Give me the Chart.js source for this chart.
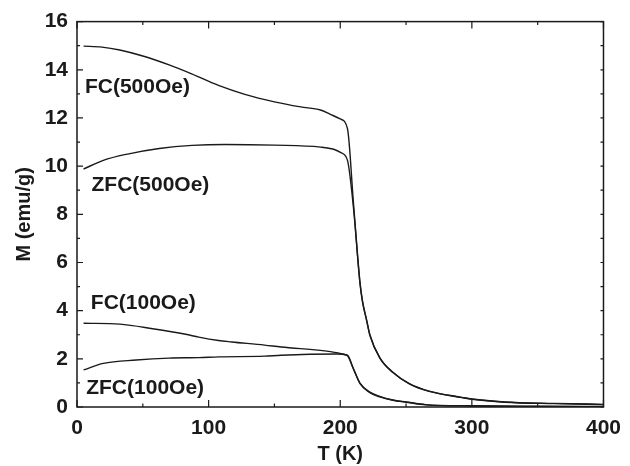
<!DOCTYPE html>
<html>
<head>
<meta charset="utf-8">
<script src="https://cdn.jsdelivr.net/npm/chart.js@4.4.1/dist/chart.umd.min.js"></script>
<style>
html,body{margin:0;padding:0;background:#fff;}
#wrap{width:630px;height:466px;position:relative;}
</style>
</head>
<body>
<div id="wrap"><canvas id="c" width="630" height="466"></canvas></div>
<script>
// ---- data ----
const fc500T  = [5, 19, 32.5, 50, 70, 87.5, 107.5, 127.5, 150, 170, 185, 192.5, 200, 205.5, 210, 215, 217, 220, 222.5, 230, 240, 252.5, 267.5, 292.5, 300, 325, 362.5, 400];
const fc500M  = [14.98, 14.94, 14.82, 14.57, 14.2, 13.82, 13.35, 12.98, 12.67, 12.46, 12.33, 12.15, 11.96, 11.55, 8.5, 5.18, 4.37, 3.63, 3.0, 2.05, 1.44, 0.97, 0.66, 0.4, 0.33, 0.21, 0.15, 0.11];
const zfc500T = [5, 20, 37.5, 62.5, 87.5, 112.5, 150, 185, 195, 200.5, 205.5, 210, 215, 217, 220, 222.5, 230, 240, 252.5, 267.5, 292.5, 300, 325, 362.5, 400];
const zfc500M = [9.88, 10.24, 10.49, 10.73, 10.86, 10.9, 10.87, 10.79, 10.7, 10.56, 10.24, 8.3, 5.12, 4.33, 3.6, 2.98, 2.04, 1.43, 0.96, 0.65, 0.39, 0.32, 0.2, 0.14, 0.1];
const fc100T  = [5, 32.5, 57.5, 82.5, 92.5, 107.5, 117.5, 142.5, 155, 192.5, 202.5, 205.5, 210, 215, 222.5, 230, 240, 250, 265, 300, 350, 400];
const fc100M  = [3.48, 3.44, 3.25, 3.02, 2.9, 2.76, 2.7, 2.57, 2.49, 2.3, 2.19, 2.12, 1.6, 0.99, 0.62, 0.44, 0.29, 0.21, 0.1, 0.05, 0.03, 0.02];
const zfc100T = [5, 20, 45, 70, 92.5, 107.5, 142.5, 155, 197.5, 205.5, 210, 215, 222.5, 230, 240, 250, 265, 300, 350, 400];
const zfc100M = [1.54, 1.81, 1.95, 2.03, 2.05, 2.08, 2.11, 2.15, 2.2, 2.15, 1.58, 0.97, 0.6, 0.42, 0.28, 0.2, 0.09, 0.04, 0.02, 0.01];
const seriesNames = ["FC(500Oe)", "ZFC(500Oe)", "FC(100Oe)", "ZFC(100Oe)"];
// label anchor (T, M) for each curve name
const labelT = [6, 11, 10.5, 7];
const labelM = [13.28, 9.2, 4.3, 0.76];
const xTicks = [0, 100, 200, 300, 400];
const yTicks = [0, 2, 4, 6, 8, 10, 12, 14, 16];

const FONT = "'Liberation Sans', Arial, Helvetica, sans-serif";
const INK = '#1a1a1a';

function pts(T, M){ return T.map((t,i)=>({x:t, y:M[i]})); }
const allT = [fc500T, zfc500T, fc100T, zfc100T];
const allM = [fc500M, zfc500M, fc100M, zfc100M];

const datasets = seriesNames.map((n,i)=>({
  label: n,
  data: pts(allT[i], allM[i]),
  borderColor: INK,
  borderWidth: 1.4,
  pointRadius: 0,
  fill: false,
  cubicInterpolationMode: 'monotone'
}));

const framePlugin = {
  id: 'frame',
  afterDatasetsDraw(chart){
    const {ctx, chartArea:a, scales:{x, y}} = chart;
    ctx.save();
    ctx.strokeStyle = INK;
    ctx.lineWidth = 1.5;
    ctx.strokeRect(a.left, a.top, a.right - a.left, a.bottom - a.top);
    ctx.lineWidth = 1.2;
    for (let i = 0; i < xTicks.length; i++) {
      const px = x.getPixelForValue(xTicks[i]);
      ctx.beginPath();
      ctx.moveTo(px, a.bottom); ctx.lineTo(px, a.bottom - 7);
      ctx.moveTo(px, a.top); ctx.lineTo(px, a.top + 7);
      ctx.stroke();
      if (i < xTicks.length - 1) {
        const pm = x.getPixelForValue((xTicks[i] + xTicks[i+1]) / 2);
        ctx.beginPath();
        ctx.moveTo(pm, a.bottom); ctx.lineTo(pm, a.bottom - 3.5);
        ctx.moveTo(pm, a.top); ctx.lineTo(pm, a.top + 3.5);
        ctx.stroke();
      }
    }
    for (let i = 0; i < yTicks.length; i++) {
      const py = y.getPixelForValue(yTicks[i]);
      ctx.beginPath();
      ctx.moveTo(a.left, py); ctx.lineTo(a.left + 6, py);
      ctx.moveTo(a.right, py); ctx.lineTo(a.right - 3, py);
      ctx.stroke();
      if (i < yTicks.length - 1) {
        const pm = y.getPixelForValue((yTicks[i] + yTicks[i+1]) / 2);
        ctx.beginPath();
        ctx.moveTo(a.left, pm); ctx.lineTo(a.left + 3, pm);
        ctx.moveTo(a.right, pm); ctx.lineTo(a.right - 3, pm);
        ctx.stroke();
      }
    }
    ctx.fillStyle = INK;
    ctx.font = 'bold 21px ' + FONT;
    ctx.textAlign = 'left';
    ctx.textBaseline = 'middle';
    seriesNames.forEach((n,i)=>{
      ctx.fillText(n, x.getPixelForValue(labelT[i]), y.getPixelForValue(labelM[i]));
    });
    ctx.restore();
  }
};

new Chart(document.getElementById('c'), {
  type: 'line',
  data: { datasets },
  options: {
    responsive: false,
    animation: false,
    devicePixelRatio: 1,
    layout: { padding: { top: 14, right: 20, left: 0, bottom: 0 } },
    plugins: { legend: { display: false }, tooltip: { enabled: false } },
    scales: {
      x: {
        type: 'linear', min: 0, max: 400,
        afterFit(s){ s.height = 59; },
        afterBuildTicks(s){ s.ticks = xTicks.map(v=>({value:v})); },
        grid: { display: false, drawTicks: false },
        border: { display: false },
        ticks: { color: INK, font: { family: FONT, size: 21, weight: 'bold' }, padding: 9, maxRotation: 0 },
        title: { display: true, text: 'T (K)', color: INK, font: { family: FONT, size: 20, weight: 'bold' }, padding: { top: 4, bottom: 0 } }
      },
      y: {
        type: 'linear', min: 0, max: 16,
        afterFit(s){ s.width = 77; },
        afterBuildTicks(s){ s.ticks = yTicks.map(v=>({value:v})); },
        grid: { display: false, drawTicks: false },
        border: { display: false },
        ticks: { color: INK, font: { family: FONT, size: 21, weight: 'bold' }, padding: 9 },
        title: { display: true, text: 'M (emu/g)', color: INK, font: { family: FONT, size: 20, weight: 'bold' }, padding: { top: 12, bottom: 0 } }
      }
    }
  },
  plugins: [framePlugin]
});
</script>
</body>
</html>
